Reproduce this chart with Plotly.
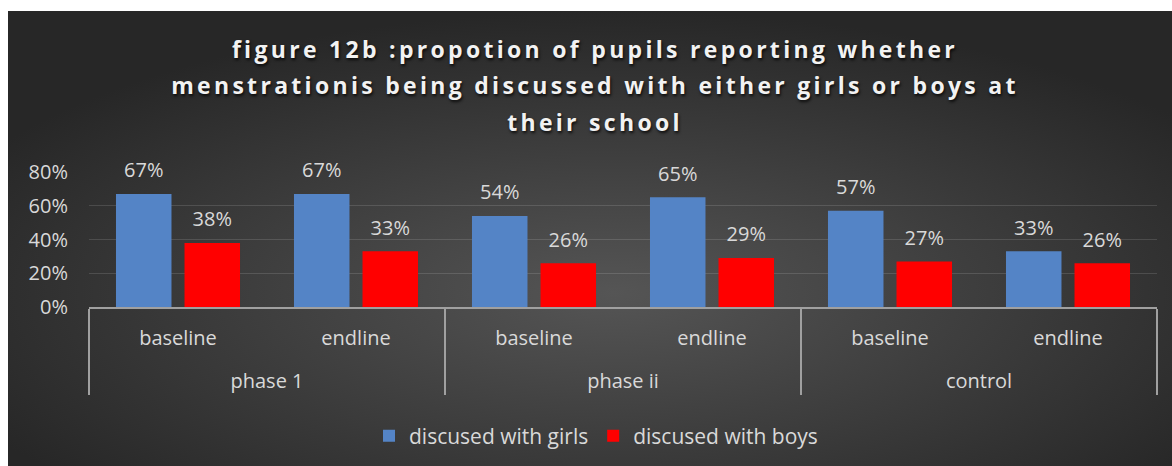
import base64
import plotly.graph_objects as go

# chart data
groups = ['phase 1', 'phase 1', 'phase ii', 'phase ii', 'control', 'control']
rounds = ['baseline', 'endline', 'baseline', 'endline', 'baseline', 'endline']
girls = [0.67, 0.67, 0.54, 0.65, 0.57, 0.33]
boys = [0.38, 0.33, 0.26, 0.29, 0.27, 0.26]
series_names = ['discused with girls', 'discused with boys']
title_lines = [
    'figure 12b :propotion of pupils reporting whether',
    'menstrationis being discussed with either girls or boys at',
    'their school',
]

W, H = 1172, 466
ML, MR, MT, MB = 89, 15, 172, 159
TXT = '#d9d9d9'
FONT = 'Open Sans'

# dark radial background (chart area from x=8, y=11)
bx0, by0 = 8, 11
bw, bh = W - bx0, H - by0
svg = (
    f"<svg xmlns='http://www.w3.org/2000/svg' width='{bw}' height='{bh}' "
    f"viewBox='0 0 {bw} {bh}' preserveAspectRatio='none'>"
    "<defs><radialGradient id='g' cx='0.52' cy='0.62' r='0.62'>"
    "<stop offset='0' stop-color='#555555'/><stop offset='1' stop-color='#272727'/>"
    "</radialGradient></defs><rect width='100%' height='100%' fill='url(#g)'/></svg>"
)
bg_src = 'data:image/svg+xml;base64,' + base64.b64encode(svg.encode()).decode()
pw, ph = W - ML - MR, H - MT - MB

# outer level gets a leading blank line so it sits lower, like the original
x = [['<br>' + g for g in groups], rounds]

fig = go.Figure()
fig.add_trace(go.Bar(x=x, y=girls, name=series_names[0],
                     marker=dict(color='#5484c6', line_width=0)))
fig.add_trace(go.Bar(x=x, y=boys, name=series_names[1],
                     marker=dict(color='#ff0000', line_width=0)))

# value labels, grouped like the bars
for vals in (girls, boys):
    fig.add_trace(go.Scatter(
        x=x, y=vals, mode='markers+text', cliponaxis=False,
        text=[f'{v:.0%}' for v in vals], textposition='top center',
        textfont=dict(size=20, color=TXT, family=FONT),
        marker=dict(size=17, opacity=0), showlegend=False, hoverinfo='skip',
    ))

title_html = '<br>'.join(
    f'<span style="font-size:23px;letter-spacing:3.3px">{t}</span>' for t in title_lines
)

fig.update_layout(
    width=W, height=H,
    margin=dict(l=ML, r=MR, t=MT, b=MB, autoexpand=False),
    paper_bgcolor='white',
    plot_bgcolor='rgba(0,0,0,0)',
    font=dict(family=FONT, size=20, color=TXT),
    barmode='group', bargap=0.23, bargroupgap=0.19,
    scattermode='group',
    title=dict(
        text=title_html, x=595 / W, xref='container', xanchor='center',
        y=1 - 58 / H, yref='container', yanchor='top',
        font=dict(family=FONT, size=28, color='#f2f2f2', weight='bold',
                  shadow='1px 2px 3px rgba(0,0,0,0.8)'),
    ),
    legend=dict(
        orientation='h', x=(596 - ML) / pw, xanchor='center',
        y=(MT + ph - 436) / ph, yanchor='middle',
        font=dict(size=21, color=TXT), itemwidth=30,
        bgcolor='rgba(0,0,0,0)',
    ),
    images=[dict(
        source=bg_src, xref='paper', yref='paper',
        x=(bx0 - ML) / pw, y=(MT + ph - by0) / ph,
        sizex=bw / pw, sizey=bh / ph,
        xanchor='left', yanchor='top', sizing='stretch', layer='below',
    )],
)

fig.update_yaxes(
    range=[0, 0.8], dtick=0.2, tickformat='.0%', automargin=False,
    showgrid=True, gridcolor='rgba(255,255,255,0.13)', gridwidth=1,
    zeroline=False, showline=False, ticklabelstandoff=20,
    tickfont=dict(size=20, color=TXT),
)
fig.update_xaxes(
    type='multicategory', automargin=False,
    showline=True, linecolor='#a0a0a0', linewidth=2,
    showdividers=True, dividercolor='#a0a0a0', dividerwidth=2,
    ticklabelstandoff=12, tickfont=dict(size=20, color=TXT),
)

fig.write_html('out.html', config={'displayModeBar': False},
               post_script="document.body.style.margin='0';")
